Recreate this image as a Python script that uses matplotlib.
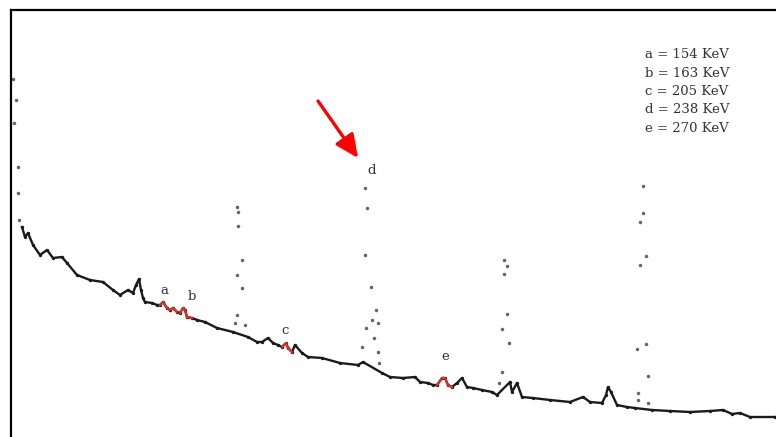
import numpy as np
import matplotlib
matplotlib.use('Agg')
import matplotlib.pyplot as plt

# Continuum (channel, counts)
channel = [22, 25, 28, 33, 40, 47, 53, 62, 67, 77, 90, 103, 113, 120, 128, 133, 136, 139,
           141, 143, 145, 152, 157, 160, 163, 167, 170, 173, 177, 180, 183, 185, 187, 192,
           197, 205, 217, 233, 248, 257, 262, 268, 273, 278, 282, 286, 288, 292, 295, 302,
           308, 322, 340, 358, 363, 382, 390, 403, 415, 420, 428, 433, 437, 442, 445, 448,
           452, 457, 462, 467, 473, 482, 492, 497, 510, 512, 517, 522, 533, 550, 570, 583,
           590, 602, 606, 608, 611, 617, 627, 635, 652, 670, 690, 710, 723, 732, 740, 750, 775]
counts = [210, 200, 204, 192, 182, 187, 179, 180, 174, 162, 157, 155, 147, 142, 147, 144, 152, 158,
          147, 139, 135, 134, 132, 132, 135, 129, 127, 129, 125, 124, 129, 127, 120, 119,
          117, 115, 109, 105, 100, 95, 95, 99, 94, 92, 90, 94, 89, 85, 92, 84,
          80, 79, 74, 72, 75, 64, 60, 59, 60, 55, 54, 52, 52, 59, 59, 52,
          50, 54, 59, 50, 49, 47, 45, 42, 55, 45, 54, 40, 39, 37, 35, 40,
          35, 34, 42, 50, 45, 32, 30, 29, 27, 26, 25, 26, 27, 23, 24, 20, 20]

# sparse channels on the steep peaks (drawn as dots only)
peak_channel = [13, 16, 14, 18, 18, 19,
                237, 238, 238, 242, 237, 242, 237, 235, 245,
                365, 367, 365, 371, 376, 372, 378, 366, 374, 362, 378, 379,
                504, 507, 504, 507, 502, 509, 502, 499,
                643, 643, 640, 646, 640, 646, 637, 648, 638, 638, 648]
peak_counts = [358, 337, 314, 270, 244, 217,
               230, 225, 211, 177, 162, 149, 122, 114, 112,
               249, 229, 182, 150, 127, 117, 114, 109, 99, 90, 85, 74,
               177, 171, 163, 123, 108, 94, 65, 54,
               251, 224, 215, 181, 172, 93, 88, 61, 44, 37, 34]

# channel ranges of the marked small peaks (shown in red)
marked_ranges = [(158, 178), (179, 193), (281, 293), (436, 453)]
peak_letters = ['a', 'b', 'c', 'd', 'e']
letter_channel = [164, 192, 285, 372, 445]
letter_counts = [147, 140, 106, 267, 80]
energies = [154, 163, 205, 238, 270]

fig = plt.figure(figsize=(7.76, 4.37), dpi=100)
ax = fig.add_axes([11 / 776, 0, 765 / 776, 427 / 437])
ax.set_xlim(11, 776)
ax.set_ylim(0, 427)

ch = np.array(channel)
ct = np.array(counts)
ax.plot(ch, ct, color='#1a1a1a', lw=1.7, marker='o', ms=1.4, solid_joinstyle='round')
for lo, hi in marked_ranges:
    m = (ch >= lo) & (ch <= hi)
    ax.plot(ch[m], ct[m], color='#e0302a', lw=1.6)
ax.plot(peak_channel, peak_counts, ls='none', marker='o', ms=1.5, color='#666666')

for lab, x, y in zip(peak_letters, letter_channel, letter_counts):
    ax.text(x, y, lab, ha='center', va='center', fontsize=9.5,
            family='DejaVu Serif', color='#333333')

for i, (lab, e) in enumerate(zip(peak_letters, energies)):
    ax.text(645, 382 - i * 18.3, f'{lab} = {e} KeV', ha='left', va='center',
            fontsize=9.5, family='DejaVu Serif', color='#333333')

ax.annotate('', xy=(358, 279), xytext=(318, 336),
            arrowprops=dict(arrowstyle='-|>,head_length=1.4,head_width=0.65',
                            color='red', lw=2.4, shrinkA=0, shrinkB=0))

ax.set_xticks([])
ax.set_yticks([])
for side in ['right', 'bottom']:
    ax.spines[side].set_visible(False)
for side in ['left', 'top']:
    ax.spines[side].set_linewidth(1.6)
    ax.spines[side].set_color('black')

fig.savefig('out.png', dpi=100)
